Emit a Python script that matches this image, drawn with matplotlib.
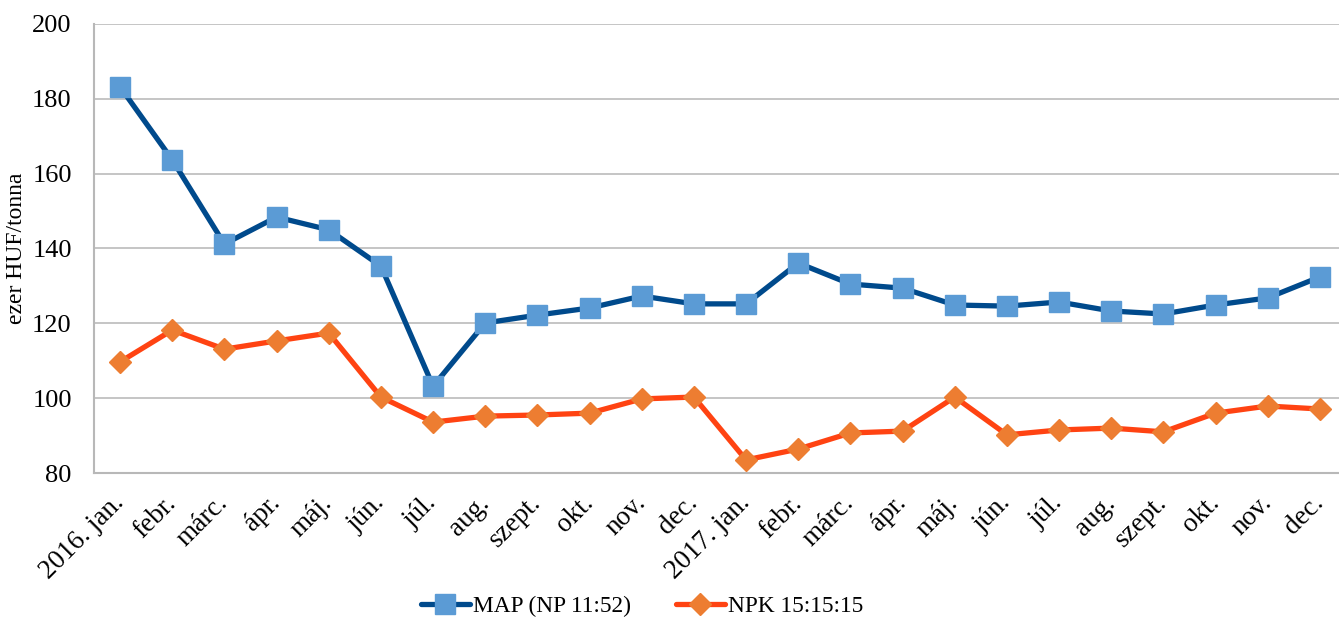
import matplotlib
matplotlib.use("Agg")
import matplotlib.pyplot as plt
import numpy as np

categories = ["2016. jan.", "febr.", "márc.", "ápr.", "máj.", "jún.", "júl.", "aug.",
              "szept.", "okt.", "nov.", "dec.",
              "2017. jan.", "febr.", "márc.", "ápr.", "máj.", "jún.", "júl.", "aug.",
              "szept.", "okt.", "nov.", "dec."]
map_values = [183.2, 163.7, 141.2, 148.4, 145.0, 135.3, 103.2, 120.1, 122.2, 124.1, 127.3, 125.2,
              125.2, 136.1, 130.5, 129.4, 124.9, 124.6, 125.7, 123.3, 122.5, 124.9, 126.8, 132.4]
npk_values = [109.7, 118.2, 113.1, 115.3, 117.4, 100.3, 93.6, 95.2, 95.5, 96.0, 99.8, 100.3,
              83.5, 86.4, 90.7, 91.2, 100.3, 90.2, 91.5, 92.0, 91.0, 96.0, 97.9, 97.1]
series_names = ["MAP (NP 11:52)", "NPK 15:15:15"]
y_ticks = [80, 100, 120, 140, 160, 180, 200]

plt.rcParams['font.family'] = ['Liberation Serif', 'DejaVu Serif']

W, H = 1339, 619
fig = plt.figure(figsize=(W / 100, H / 100), dpi=100)
ax = fig.add_axes([94 / W, 1 - 473 / H, (1346 - 94) / W, (473 - 24) / H])

x = np.arange(len(categories))
ax.plot(x, map_values, color="#004a8c", lw=3.8, marker="s", ms=14,
        markerfacecolor="#5b9bd5", markeredgecolor="#5b9bd5", label=series_names[0],
        solid_joinstyle="round", solid_capstyle="round", zorder=3)
ax.plot(x, npk_values, color="#ff4312", lw=3.8, marker="D", ms=11.5,
        markerfacecolor="#ed7d31", markeredgecolor="#ed7d31", label=series_names[1],
        solid_joinstyle="round", solid_capstyle="round", zorder=3)

ax.set_xlim(-0.5, len(categories) - 0.5)
ax.set_ylim(80, 200)
ax.set_yticks(y_ticks)
ax.set_yticklabels([str(t) for t in y_ticks], fontsize=19)
ax.yaxis.grid(True, color="#c0c0c0", lw=1.3)
ax.set_axisbelow(True)
for s in ["left", "bottom", "top", "right"]:
    ax.spines[s].set_color("#b8b8b8")
    ax.spines[s].set_linewidth(1.5)
ax.spines["top"].set_visible(False)
ax.spines["right"].set_visible(False)
ax.tick_params(axis="both", length=0)
ax.tick_params(axis="y", pad=16)
ax.set_xticks(x)
ax.set_xticklabels(categories, rotation=45, ha="right", va="center",
                   rotation_mode="anchor", fontsize=19.5)
ax.tick_params(axis="x", pad=19)
ax.set_ylabel("ezer HUF/tonna", fontsize=17, labelpad=4)

fig.legend(loc="center", bbox_to_anchor=(642 / W, 1 - 606 / H), ncol=2, frameon=False,
           fontsize=16.8, handlelength=2.1, columnspacing=1.9, handletextpad=0.15)

fig.savefig("out.png", dpi=100)
